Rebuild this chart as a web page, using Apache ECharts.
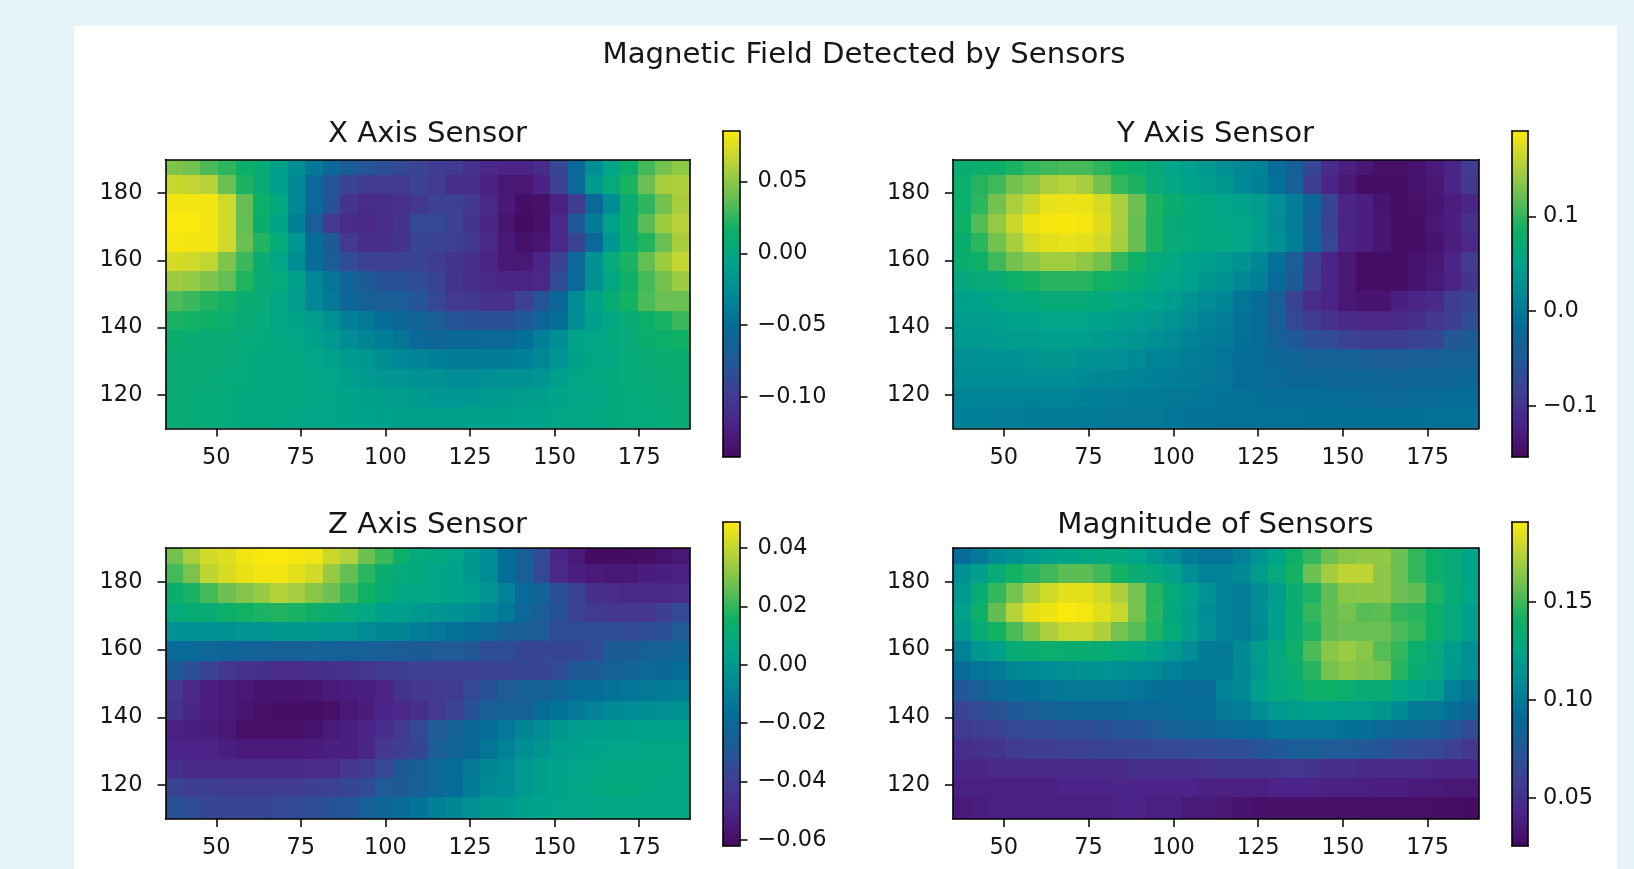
<!DOCTYPE html>
<html><head><meta charset="utf-8">
<style>
html,body{margin:0;padding:0;width:1634px;height:869px;overflow:hidden;background:#e6f3f8}
#card{position:absolute;left:74px;top:26px;width:1543px;height:843px;background:#fff}
#chart{position:absolute;left:0;top:0;width:1634px;height:869px;filter:blur(0.5px)}
</style>
<script src="https://cdn.jsdelivr.net/npm/echarts@6/dist/echarts.min.js"></script>
</head><body><div id="card"></div><div id="chart"></div>
<script>
// cell edges
const xEdges=[35,40.2,45.3,50.5,55.7,60.8,66,71.2,76.3,81.5,86.7,91.8,97,102.2,107.3,112.5,117.7,122.8,128,133.2,138.3,143.5,148.7,153.8,159,164.2,169.3,174.5,179.7,184.8,190];
const yEdges=[190,185.3,179.6,173.8,168.1,162.4,156.7,151,144.8,139.2,133.5,127.8,122.1,116.4,110];
const xTicks=[50,75,100,125,150,175];
const yTicks=[120,140,160,180];
const titles=["X Axis Sensor","Y Axis Sensor","Z Axis Sensor","Magnitude of Sensors"];
const palette=["#450a5f","#4c2388","#3f3f92","#1f5a97","#056c98","#008a96","#00a48a","#0eb065","#6bbf52","#b7d238","#fbe80c"];

// X sensor, thousandths of a unit, rows from top to bottom
const xSensor=[
[45,42,33,25,15,8,-8,-25,-42,-55,-68,-78,-82,-88,-92,-97,-100,-108,-116,-118,-118,-112,-90,-55,-25,-3,12,30,42,50],
[68,66,62,40,20,8,-8,-30,-55,-78,-92,-98,-100,-100,-95,-100,-110,-112,-122,-130,-130,-120,-95,-55,-15,3,20,40,58,60],
[82,82,82,70,38,15,2,-30,-55,-80,-105,-112,-112,-108,-102,-95,-95,-102,-115,-128,-138,-136,-122,-98,-55,-25,10,25,42,58],
[85,85,82,70,38,12,-5,-35,-68,-100,-112,-115,-112,-105,-90,-88,-95,-105,-118,-132,-140,-135,-115,-75,-38,-8,12,35,55,62],
[83,82,82,70,40,22,5,-18,-50,-72,-100,-112,-110,-105,-92,-92,-95,-102,-115,-128,-136,-132,-115,-92,-55,-18,8,22,40,58],
[72,70,66,45,28,10,-3,-25,-50,-68,-85,-95,-95,-95,-92,-98,-105,-110,-118,-128,-130,-118,-95,-55,-22,5,20,38,55,66],
[55,52,46,38,22,8,3,-8,-30,-45,-62,-72,-80,-80,-85,-92,-105,-112,-115,-118,-118,-115,-85,-55,-22,-2,15,30,42,55],
[32,28,22,18,10,8,-2,-12,-30,-42,-58,-65,-68,-68,-78,-90,-100,-102,-108,-108,-95,-78,-58,-25,-5,8,18,32,40,40],
[20,18,15,13,8,5,-2,-5,-12,-22,-35,-42,-50,-58,-62,-68,-78,-80,-82,-82,-75,-60,-48,-25,-8,0,8,15,20,28],
[12,10,8,8,5,3,0,-2,-8,-15,-25,-32,-38,-45,-55,-60,-58,-58,-56,-55,-48,-35,-25,-5,-3,2,5,12,14,17],
[10,8,8,6,4,2,0,0,-3,-7,-14,-18,-25,-30,-32,-35,-38,-38,-38,-38,-35,-30,-20,-8,-3,0,5,8,10,10],
[10,8,6,5,4,2,1,0,-2,-4,-10,-15,-18,-20,-22,-22,-26,-26,-24,-22,-22,-20,-10,-3,0,2,5,6,8,10],
[8,6,5,4,2,2,1,0,-1,-3,-6,-8,-12,-13,-14,-18,-18,-18,-15,-14,-12,-10,-5,-3,-2,2,3,5,6,8],
[7,6,5,3,2,1,0,-2,-3,-3,-6,-7,-8,-10,-10,-10,-10,-8,-8,-8,-7,-5,-3,-2,0,2,3,4,5,8]];

// Y sensor, thousandths
const ySensor=[
[75,80,82,92,100,105,108,108,98,88,80,70,55,48,38,25,15,10,-15,-38,-75,-110,-125,-135,-145,-145,-140,-130,-118,-90],
[80,95,105,125,135,150,155,148,125,100,92,72,62,50,42,35,18,8,-10,-40,-85,-118,-135,-150,-150,-150,-142,-135,-118,-95],
[80,98,125,150,165,180,182,182,170,150,122,92,78,68,60,55,52,42,25,5,-25,-78,-118,-125,-140,-150,-145,-138,-128,-118],
[85,112,140,165,182,187,189,187,175,150,120,92,70,65,62,58,55,45,22,5,-35,-80,-118,-125,-138,-150,-148,-135,-125,-105],
[78,98,125,148,170,178,180,178,168,148,120,92,72,68,62,60,55,42,28,5,-30,-75,-118,-125,-138,-150,-148,-142,-128,-115],
[78,85,105,125,135,145,145,138,125,100,85,68,60,50,45,38,28,15,-10,-45,-85,-118,-135,-150,-150,-150,-142,-135,-120,-92],
[62,70,72,82,90,96,96,96,88,80,72,62,55,48,35,28,15,5,-18,-48,-90,-120,-135,-150,-150,-150,-142,-132,-118,-98],
[48,52,58,62,65,70,70,70,65,60,58,50,42,30,20,15,-5,-15,-42,-80,-110,-120,-135,-140,-140,-125,-118,-112,-88,-78],
[42,42,45,50,52,54,54,54,50,46,42,38,30,20,10,5,-10,-20,-42,-72,-90,-100,-112,-115,-115,-112,-105,-95,-85,-68],
[38,38,40,42,42,44,44,44,40,36,32,24,18,10,5,0,-12,-18,-35,-50,-65,-70,-80,-85,-85,-85,-80,-78,-55,-48],
[26,28,28,28,32,34,34,28,26,24,18,12,10,5,0,-5,-15,-20,-25,-32,-38,-38,-40,-42,-45,-45,-42,-42,-38,-35],
[20,20,20,20,22,22,22,18,15,14,10,8,5,2,-2,-5,-18,-18,-22,-25,-25,-28,-28,-28,-30,-32,-30,-30,-28,-25],
[10,10,10,10,10,10,10,8,6,4,2,0,-2,-2,-5,-8,-10,-12,-15,-15,-15,-18,-18,-22,-24,-24,-22,-20,-18,-18],
[8,8,6,6,3,2,2,0,0,-2,-3,-3,-5,-8,-8,-10,-10,-10,-10,-10,-12,-12,-12,-12,-12,-12,-12,-10,-10,-10]];

// Z sensor, ten-thousandths
const zSensor=[
[280,360,420,440,470,485,490,480,470,410,370,270,210,150,90,75,50,-10,-60,-170,-260,-350,-500,-550,-610,-612,-612,-605,-585,-560],
[220,290,390,430,460,475,475,450,420,330,260,190,130,90,80,60,40,-10,-60,-170,-260,-360,-490,-530,-550,-560,-560,-540,-530,-520],
[130,170,220,270,300,330,370,350,310,270,210,160,110,70,65,50,40,20,-20,-100,-190,-230,-330,-380,-470,-480,-490,-490,-490,-480],
[90,110,110,140,160,170,180,170,140,120,100,70,30,20,0,-20,-30,-50,-90,-130,-210,-270,-320,-380,-420,-430,-430,-430,-400,-360],
[-30,-30,-30,-30,-20,-20,-10,-10,-10,-20,-20,-60,-80,-80,-110,-130,-160,-170,-210,-250,-270,-290,-340,-340,-340,-340,-350,-340,-330,-290],
[-190,-190,-210,-220,-230,-240,-250,-250,-240,-240,-250,-260,-260,-270,-280,-290,-290,-300,-340,-340,-370,-370,-370,-370,-350,-280,-280,-250,-240,-230],
[-280,-330,-380,-430,-450,-460,-480,-480,-470,-460,-450,-440,-410,-400,-390,-390,-390,-390,-380,-380,-370,-370,-350,-300,-280,-250,-230,-210,-200,-180],
[-430,-490,-530,-550,-560,-580,-580,-580,-570,-550,-540,-530,-510,-450,-430,-420,-410,-360,-320,-290,-250,-240,-220,-190,-170,-160,-140,-130,-120,-110],
[-450,-500,-530,-550,-570,-590,-600,-605,-608,-590,-560,-540,-510,-490,-460,-420,-380,-320,-260,-250,-240,-180,-150,-130,-100,-70,-60,-50,-40,-30],
[-520,-530,-540,-560,-590,-590,-590,-590,-580,-550,-530,-510,-470,-420,-360,-290,-240,-200,-170,-130,-90,-50,-10,10,20,30,30,40,40,40],
[-510,-510,-510,-530,-550,-550,-550,-550,-540,-530,-530,-500,-430,-400,-370,-270,-230,-200,-140,-100,-50,-20,10,30,40,50,50,60,60,60],
[-460,-490,-490,-490,-490,-490,-490,-490,-480,-480,-430,-410,-360,-300,-250,-210,-170,-130,-80,-60,0,20,40,50,60,70,70,70,80,60],
[-380,-400,-400,-410,-410,-410,-410,-410,-400,-390,-370,-350,-290,-280,-250,-210,-170,-120,-70,-50,0,20,40,50,70,85,85,70,60,60],
[-320,-340,-370,-370,-370,-370,-360,-350,-340,-320,-310,-250,-220,-190,-150,-110,-80,-40,-10,0,30,40,50,50,60,60,60,60,60,60]];

// magnitude, thousandths
const magSensor=[
[92,98,108,113,118,122,125,128,130,130,126,118,110,100,96,96,104,115,125,140,148,158,164,166,166,158,148,140,134,125],
[113,122,134,142,146,150,155,155,150,142,136,130,124,112,104,104,108,120,132,142,158,170,176,176,165,158,148,140,134,125],
[118,134,148,160,172,180,185,185,180,172,160,145,132,124,114,104,102,110,120,136,144,156,164,165,165,158,156,144,134,126],
[124,140,156,174,185,188,191,189,184,178,160,146,130,122,110,104,102,110,122,136,148,156,160,154,155,148,146,140,132,122],
[118,134,142,152,162,172,178,178,172,160,154,144,132,122,112,104,102,108,122,136,144,156,158,158,158,152,148,140,132,122],
[104,116,122,134,136,138,136,136,134,132,130,124,118,110,100,98,108,120,130,140,152,164,168,164,154,148,138,132,120,112],
[92,96,100,106,108,110,112,114,114,112,110,108,104,100,100,100,108,118,130,136,146,160,164,162,160,146,136,130,118,112],
[74,80,88,92,94,96,98,98,98,98,96,94,92,90,90,104,108,122,130,132,140,140,138,134,134,128,124,120,104,96],
[62,66,70,74,78,80,84,86,86,86,88,88,90,92,92,98,102,110,118,120,122,122,120,120,116,108,100,98,94,86],
[56,58,60,64,66,66,68,68,70,72,72,76,80,82,86,88,90,92,96,96,96,96,94,94,88,86,84,80,74,66],
[48,50,52,56,58,58,60,60,62,62,62,64,64,66,66,68,68,72,74,78,78,76,76,74,72,68,66,64,60,54],
[44,44,46,46,46,46,46,46,46,46,48,48,48,48,50,52,52,52,52,54,52,48,48,46,46,46,46,44,44,44],
[40,40,40,40,40,40,42,42,42,44,42,42,42,42,40,40,40,40,42,42,42,40,40,40,38,38,36,36,34,34],
[36,38,40,40,40,40,40,40,40,42,42,40,40,36,36,34,32,30,30,30,30,30,30,29,29,29,29,28,28,27]];

const sensorRows=[xSensor,ySensor,zSensor,magSensor];
const unitScale=[1000,1000,10000,1000];
const barMin=[-0.1417,-0.1538,-0.0621,0.0255];
const barMax=[0.0851,0.1899,0.0489,0.1908];
const barTicks=[[-0.10,-0.05,0,0.05],[-0.1,0,0.1],[-0.06,-0.04,-0.02,0,0.02,0.04],[0.05,0.10,0.15]];
const barDigits=[2,1,2,2];

// layout
const plotBox=[[165.5,159.5,524.5,269],[953,159.5,525.5,269],[165.5,548,524.5,271],[953,548,525.5,271]];
const barBox=[[723,131,16.5,326],[1512,131,16,326],[723,522,16.5,324],[1512,522,16,324]];
const barMargin=[18,15,18,15];
const titleAt=[[422.5,129],[1210.5,129],[422.5,520],[1210.5,520]];

const FONT='"DejaVu Sans"', INK='#161616';
const grids=[],xAxes=[],yAxes=[],series=[],visualMaps=[],titleList=[];
titleList.push({text:'Magnetic Field Detected by Sensors',left:859,top:50,textAlign:'center',textVerticalAlign:'middle',
  textStyle:{fontFamily:FONT,fontWeight:'normal',fontSize:29.2,color:INK}});
const line={lineStyle:{color:'#000',width:1.6}};
function frameAxes(grid,ext){
  xAxes.push({gridIndex:grid,type:'value',position:'top',min:ext.x0,max:ext.x1,z:10,axisLine:{show:true,onZero:false,...line},axisTick:{show:false},axisLabel:{show:false},splitLine:{show:false}});
}
function cellRender(params,api){
  const a=api.coord([api.value(0),api.value(2)]), b=api.coord([api.value(1),api.value(3)]);
  const x=Math.round(a[0]), y=Math.round(a[1]);
  return {type:'rect',shape:{x:x,y:y,width:Math.round(b[0])-x,height:Math.round(b[1])-y},
    style:{fill:api.visual('color')}};
}
function barRender(params,api){
  const a=api.coord([api.value(0),api.value(2)]), b=api.coord([api.value(1),api.value(3)]);
  return {type:'rect',shape:{x:a[0],y:a[1],width:b[0]-a[0],height:b[1]-a[1]},
    style:{fill:{type:'linear',x:0,y:1,x2:0,y2:0,colorStops:palette.map((c,i)=>({offset:i/(palette.length-1),color:c}))}}};
}
const labelStyle={fontFamily:FONT,fontSize:22.5,color:INK};
for(let p=0;p<4;p++){
  const B=plotBox[p], C=barBox[p];
  titleList.push({text:titles[p],left:titleAt[p][0],top:titleAt[p][1],textAlign:'center',textVerticalAlign:'middle',
    textStyle:{fontFamily:FONT,fontWeight:'normal',fontSize:29.2,color:INK}});
  // heat panel
  const g=grids.length;
  grids.push({left:B[0],top:B[1],width:B[2],height:B[3],containLabel:false});
  const xi=xAxes.length, yi=yAxes.length;
  xAxes.push({gridIndex:g,type:'value',position:'bottom',min:xEdges[0],max:xEdges[30],z:10,
    axisLine:{show:true,onZero:false,...line},
    axisTick:{show:true,length:8,customValues:xTicks,lineStyle:{color:'#000',width:1.5}},
    axisLabel:{show:true,customValues:xTicks,margin:18,...labelStyle},splitLine:{show:false}});
  frameAxes(g,{x0:xEdges[0],x1:xEdges[30]});
  yAxes.push({gridIndex:g,type:'value',position:'left',min:yEdges[14],max:yEdges[0],z:10,
    axisLine:{show:true,onZero:false,...line},
    axisTick:{show:true,length:8,customValues:yTicks,lineStyle:{color:'#000',width:1.5}},
    axisLabel:{show:true,customValues:yTicks,margin:23,padding:[5,0,0,0],...labelStyle},splitLine:{show:false}});
  yAxes.push({gridIndex:g,type:'value',position:'right',min:yEdges[14],max:yEdges[0],z:10,
    axisLine:{show:true,onZero:false,...line},axisTick:{show:false},axisLabel:{show:false},splitLine:{show:false}});
  const cells=[];
  sensorRows[p].forEach((row,r)=>row.forEach((v,c)=>{
    cells.push([xEdges[c],xEdges[c+1],yEdges[r+1],yEdges[r],v/unitScale[p]]);
  }));
  const si=series.length;
  series.push({type:'custom',coordinateSystem:'cartesian2d',xAxisIndex:xi,yAxisIndex:yi,clip:true,
    encode:{x:[0,1],y:[2,3]},data:cells,renderItem:cellRender,silent:true,z:2});
  visualMaps.push({show:false,type:'continuous',seriesIndex:si,dimension:4,min:barMin[p],max:barMax[p],inRange:{color:palette}});
  // colour bar
  const gb=grids.length;
  grids.push({left:C[0],top:C[1],width:C[2],height:C[3]});
  const bxi=xAxes.length, byi=yAxes.length;
  xAxes.push({gridIndex:gb,type:'value',position:'bottom',min:0,max:1,z:10,axisLine:{show:true,onZero:false,...line},axisTick:{show:false},axisLabel:{show:false},splitLine:{show:false}});
  frameAxes(gb,{x0:0,x1:1});
  const digits=barDigits[p];
  yAxes.push({gridIndex:gb,type:'value',position:'right',min:barMin[p],max:barMax[p],z:10,
    axisLine:{show:true,onZero:false,...line},
    axisTick:{show:true,length:8,customValues:barTicks[p],lineStyle:{color:'#000',width:1.5}},
    axisLabel:{show:true,customValues:barTicks[p],margin:barMargin[p],padding:[11,0,0,0],...labelStyle,
      formatter:v=>v.toFixed(digits).replace('-','\u2212')},splitLine:{show:false}});
  yAxes.push({gridIndex:gb,type:'value',position:'left',min:barMin[p],max:barMax[p],z:10,
    axisLine:{show:true,onZero:false,...line},axisTick:{show:false},axisLabel:{show:false},splitLine:{show:false}});
  series.push({type:'custom',coordinateSystem:'cartesian2d',xAxisIndex:bxi,yAxisIndex:byi,clip:true,
    encode:{x:[0,1],y:[2,3]},data:[[0,1,barMin[p],barMax[p]]],renderItem:barRender,silent:true,z:2});
}
const chart=echarts.init(document.getElementById('chart'),null,{renderer:'canvas'});
chart.setOption({animation:false,backgroundColor:'transparent',title:titleList,grid:grids,xAxis:xAxes,yAxis:yAxes,series:series,visualMap:visualMaps});
</script></body></html>
